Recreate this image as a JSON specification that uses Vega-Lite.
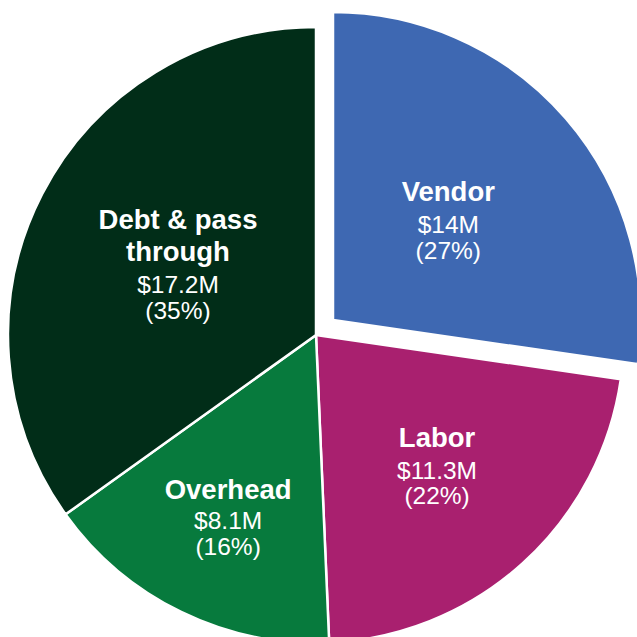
{
  "$schema": "https://vega.github.io/schema/vega-lite/v6.json",
  "width": 637,
  "height": 637,
  "padding": 0,
  "autosize": "none",
  "background": "white",
  "config": {"view": {"stroke": null}},
  "data": {
    "values": [
      {"category": "Vendor", "value": 14.0, "name": "Vendor", "amount": "$14M", "share": "(27%)"},
      {"category": "Labor", "value": 11.3, "name": "Labor", "amount": "$11.3M", "share": "(22%)"},
      {"category": "Overhead", "value": 8.1, "name": "Overhead", "amount": "$8.1M", "share": "(16%)"},
      {"category": "Debt", "value": 17.9, "name": "Debt & pass\nthrough", "amount": "$17.2M", "share": "(35%)"}
    ]
  },
  "transform": [
    {"stack": "value", "groupby": [], "as": ["v0", "v1"]},
    {"calculate": "(datum.v0 + datum.v1) / 2", "as": "mid"},
    {"calculate": "datum.amount + '\\n' + datum.share", "as": "figures"}
  ],
  "encoding": {
    "x": {"value": 316},
    "y": {"value": 335}
  },
  "layer": [
    {
      "transform": [{"filter": "datum.category !== 'Vendor'"}],
      "mark": {"type": "arc", "outerRadius": 308, "stroke": "white", "strokeWidth": 2.5},
      "encoding": {
        "theta": {"field": "v0", "type": "quantitative", "scale": {"domain": [0, 51.3]}, "stack": null},
        "theta2": {"field": "v1"},
        "color": {"field": "category", "type": "nominal", "legend": null,
          "scale": {"domain": ["Vendor", "Labor", "Overhead", "Debt"], "range": ["#3E68B2", "#A9206F", "#077A3D", "#012D18"]}}
      }
    },
    {
      "transform": [{"filter": "datum.category === 'Vendor'"}],
      "mark": {"type": "arc", "outerRadius": 308, "stroke": "white", "strokeWidth": 2.5, "xOffset": 17, "yOffset": -15},
      "encoding": {
        "theta": {"field": "v0", "type": "quantitative", "scale": {"domain": [0, 51.3]}, "stack": null},
        "theta2": {"field": "v1"},
        "color": {"field": "category", "type": "nominal", "legend": null}
      }
    },
    {
      "transform": [{"filter": "datum.category === 'Vendor'"}],
      "mark": {"type": "text", "radius": 167, "dx": 6, "dy": -25, "font": "Liberation Sans", "fontSize": 27.5, "fontWeight": "bold", "fill": "white", "align": "center", "baseline": "alphabetic", "lineBreak": "\n", "lineHeight": 32},
      "encoding": {"theta": {"field": "mid", "type": "quantitative", "stack": null}, "text": {"field": "name"}}
    },
    {
      "transform": [{"filter": "datum.category === 'Vendor'"}],
      "mark": {"type": "text", "radius": 167, "dx": 6, "dy": 7, "font": "Liberation Sans", "fontSize": 24.5, "fill": "white", "align": "center", "baseline": "alphabetic", "lineBreak": "\n", "lineHeight": 26},
      "encoding": {"theta": {"field": "mid", "type": "quantitative", "stack": null}, "text": {"field": "figures"}}
    },
    {
      "transform": [{"filter": "datum.category === 'Labor'"}],
      "mark": {"type": "text", "radius": 188, "dx": -5, "dy": -27, "font": "Liberation Sans", "fontSize": 27.5, "fontWeight": "bold", "fill": "white", "align": "center", "baseline": "alphabetic", "lineBreak": "\n", "lineHeight": 32},
      "encoding": {"theta": {"field": "mid", "type": "quantitative", "stack": null}, "text": {"field": "name"}}
    },
    {
      "transform": [{"filter": "datum.category === 'Labor'"}],
      "mark": {"type": "text", "radius": 188, "dx": -5, "dy": 5, "font": "Liberation Sans", "fontSize": 24.5, "fill": "white", "align": "center", "baseline": "alphabetic", "lineBreak": "\n", "lineHeight": 25},
      "encoding": {"theta": {"field": "mid", "type": "quantitative", "stack": null}, "text": {"field": "figures"}}
    },
    {
      "transform": [{"filter": "datum.category === 'Overhead'"}],
      "mark": {"type": "text", "radius": 211, "dx": 4.5, "dy": -26, "font": "Liberation Sans", "fontSize": 27.5, "fontWeight": "bold", "fill": "white", "align": "center", "baseline": "alphabetic", "lineBreak": "\n", "lineHeight": 32},
      "encoding": {"theta": {"field": "mid", "type": "quantitative", "stack": null}, "text": {"field": "name"}}
    },
    {
      "transform": [{"filter": "datum.category === 'Overhead'"}],
      "mark": {"type": "text", "radius": 211, "dx": 4.5, "dy": 4, "font": "Liberation Sans", "fontSize": 24.5, "fill": "white", "align": "center", "baseline": "alphabetic", "lineBreak": "\n", "lineHeight": 26},
      "encoding": {"theta": {"field": "mid", "type": "quantitative", "stack": null}, "text": {"field": "figures"}}
    },
    {
      "transform": [{"filter": "datum.category === 'Debt'"}],
      "mark": {"type": "text", "radius": 141, "dx": -12.6, "dy": -42, "font": "Liberation Sans", "fontSize": 27.5, "fontWeight": "bold", "fill": "white", "align": "center", "baseline": "alphabetic", "lineBreak": "\n", "lineHeight": 32},
      "encoding": {"theta": {"field": "mid", "type": "quantitative", "stack": null}, "text": {"field": "name"}}
    },
    {
      "transform": [{"filter": "datum.category === 'Debt'"}],
      "mark": {"type": "text", "radius": 141, "dx": -12.6, "dy": 22, "font": "Liberation Sans", "fontSize": 24.5, "fill": "white", "align": "center", "baseline": "alphabetic", "lineBreak": "\n", "lineHeight": 26},
      "encoding": {"theta": {"field": "mid", "type": "quantitative", "stack": null}, "text": {"field": "figures"}}
    }
  ]
}
